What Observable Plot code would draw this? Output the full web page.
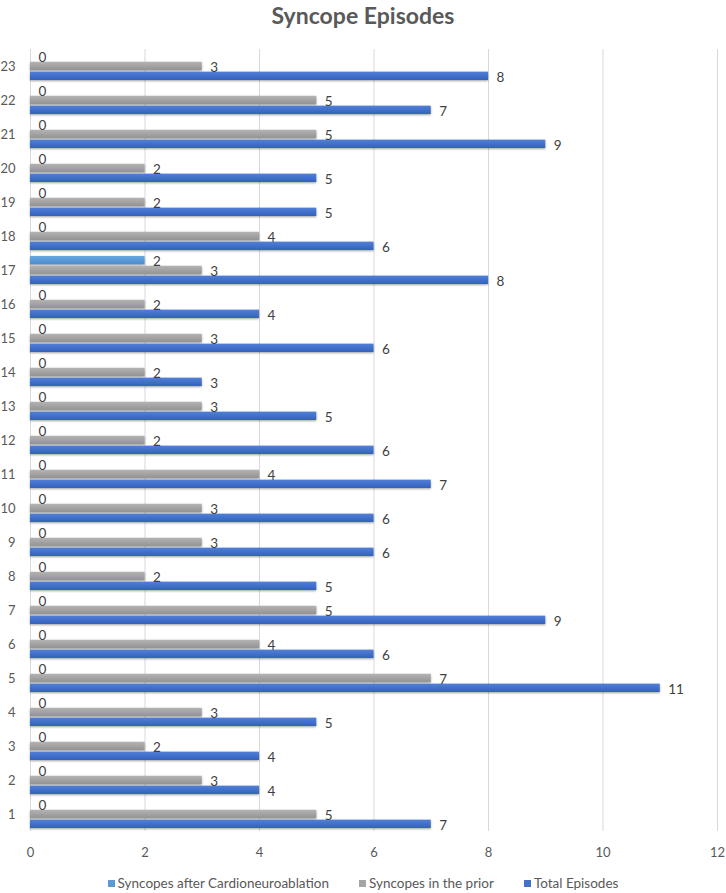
<!DOCTYPE html>
<html>
<head>
<meta charset="utf-8">
<script src="https://cdn.jsdelivr.net/npm/d3@7"></script>
<script src="https://cdn.jsdelivr.net/npm/@observablehq/plot@0.6"></script>
<style>
  html, body { margin: 0; padding: 0; background: #fff; }
  body { width: 726px; height: 893px; font-family: Lato, "Open Sans", sans-serif; }
  #title { height: 30px; line-height: 30px; text-align: center; font-size: 23px; font-weight: bold; color: #595959; }
  #legend { display: flex; justify-content: center; gap: 30px; margin-top: 11px; font-size: 13.5px; color: #595959; }
  #legend .item { display: flex; align-items: center; gap: 3px; }
  #legend .sw { width: 7px; height: 7px; display: inline-block; }
  g[aria-label="bar"] rect { filter: drop-shadow(0px 1.5px 1px rgba(0,0,0,0.35)); }
</style>
</head>
<body>
<div id="title">Syncope Episodes</div>
<div id="chart"></div>
<div id="legend"></div>
<script>
const categories = ["1","2","3","4","5","6","7","8","9","10","11","12","13","14","15","16","17","18","19","20","21","22","23"];
const totalEpisodes = [7,4,4,5,11,6,9,5,6,6,7,6,5,3,6,4,8,6,5,5,9,7,8];
const syncopesPrior = [5,3,2,3,7,4,5,2,3,3,4,2,3,2,3,2,3,4,2,2,5,5,3];
const syncopesAfter = [0,0,0,0,0,0,0,0,0,0,0,0,0,0,0,0,2,0,0,0,0,0,0];
const seriesNames = ["Syncopes after Cardioneuroablation", "Syncopes in the prior", "Total Episodes"];
const seriesColors = ["#5b9bd5", "#a5a5a5", "#4472c4"];
const xTicks = [0, 2, 4, 6, 8, 10, 12];

const rows = [];
categories.forEach((c, i) => {
  rows.push({cat: c, series: seriesNames[0], value: syncopesAfter[i]});
  rows.push({cat: c, series: seriesNames[1], value: syncopesPrior[i]});
  rows.push({cat: c, series: seriesNames[2], value: totalEpisodes[i]});
});

const gradIds = ["gAfter", "gPrior", "gTotal"];

const barMarks = seriesNames.map((s, k) =>
  Plot.barX(rows, {
    filter: d => d.series === s && d.value > 0,
    x: "value", y: "series", fill: `url(#${gradIds[k]})`
  })
);

const chart = Plot.plot({
  width: 726,
  height: 834,
  marginTop: 16,
  marginBottom: 30,
  marginLeft: 30,
  marginRight: 9,
  style: {fontFamily: "Lato, 'Open Sans', sans-serif", fontSize: "13px", color: "#595959", background: "#fff"},
  facet: {data: rows, y: "cat"},
  fy: {domain: categories.slice().reverse(), padding: 0, axis: "left", tickSize: 0, tickPadding: 15, label: null},
  y: {domain: seriesNames, paddingInner: 0.15, paddingOuter: 0.3, axis: null, round: false},
  x: {domain: [0, 12], ticks: xTicks, tickSize: 0, tickPadding: 16, label: null, tickFormat: d => String(d)},
  marks: [
    Plot.ruleX(xTicks, {stroke: "#d9d9d9", strokeWidth: 1}),
    ...barMarks,
    Plot.text(rows, {x: "value", y: "series", text: d => String(d.value), dx: 8, dy: 1, textAnchor: "start", fill: "#404040", fontSize: 13.5})
  ]
});

// gradients for the bars
const ns = "http://www.w3.org/2000/svg";
const defs = document.createElementNS(ns, "defs");
const stops = [
  ["#68a8e2", "#4a8ccb"],
  ["#b3b3b3", "#939393"],
  ["#4f80d8", "#3461bb"]
];
gradIds.forEach((id, k) => {
  const g = document.createElementNS(ns, "linearGradient");
  g.setAttribute("id", id);
  g.setAttribute("x1", "0"); g.setAttribute("y1", "0");
  g.setAttribute("x2", "0"); g.setAttribute("y2", "1");
  [[0, stops[k][0]], [1, stops[k][1]]].forEach(([o, c]) => {
    const st = document.createElementNS(ns, "stop");
    st.setAttribute("offset", o);
    st.setAttribute("stop-color", c);
    g.appendChild(st);
  });
  defs.appendChild(g);
});
const svgEl = chart.tagName.toLowerCase() === "svg" ? chart : chart.querySelector("svg");
svgEl.insertBefore(defs, svgEl.firstChild);

document.getElementById("chart").appendChild(chart);

const legend = document.getElementById("legend");
seriesNames.forEach((s, k) => {
  const item = document.createElement("div");
  item.className = "item";
  const sw = document.createElement("span");
  sw.className = "sw";
  sw.style.background = seriesColors[k];
  const t = document.createElement("span");
  t.textContent = s;
  item.appendChild(sw);
  item.appendChild(t);
  legend.appendChild(item);
});
</script>
</body>
</html>
